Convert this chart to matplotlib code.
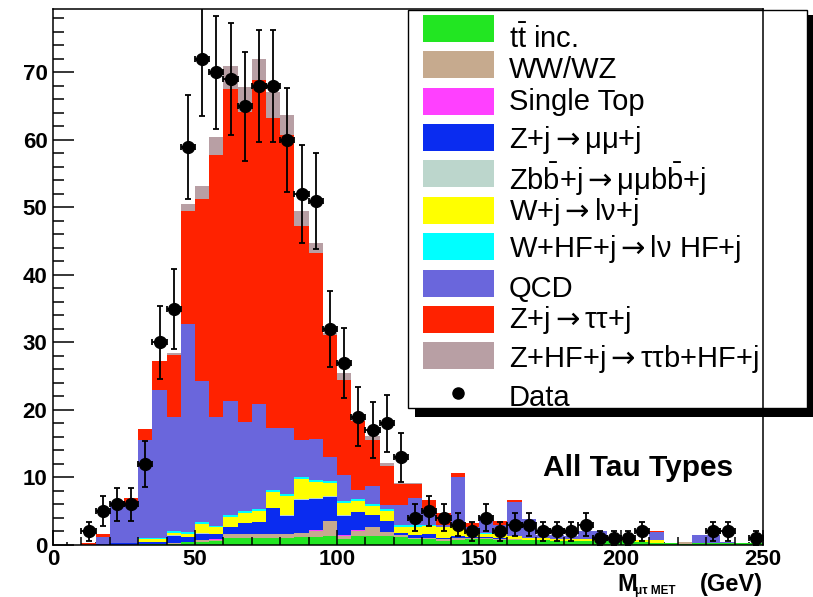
import numpy as np
import matplotlib
matplotlib.use("Agg")
import matplotlib.pyplot as plt
from matplotlib.patches import Rectangle
from matplotlib.lines import Line2D
from matplotlib.ticker import MultipleLocator

plt.rcParams['font.family'] = ['Liberation Sans', 'DejaVu Sans']
plt.rcParams['mathtext.fontset'] = 'custom'
plt.rcParams['mathtext.rm'] = 'Liberation Sans'
plt.rcParams['mathtext.bf'] = 'Liberation Sans:bold'
plt.rcParams['mathtext.it'] = 'Liberation Sans:italic'
plt.rcParams['mathtext.sf'] = 'DejaVu Sans'   # only used for the arrows

# 5 GeV bins from 0 to 250
bin_edges = np.arange(0, 255, 5)

# observed events per bin
data_counts = [0, 0, 2, 5, 6, 6, 12, 30, 35, 59,
               72, 70, 69, 65, 68, 68, 60, 52, 51, 32,
               27, 19, 17, 18, 13, 4, 5, 4, 3, 2,
               4, 2, 3, 3, 2, 2, 2, 3, 1, 1,
               1, 2, 0, 0, 0, 0, 2, 2, 0, 1]

# stacked backgrounds, bottom to top
ttbar = [0, 0, 0, 0, 0, 0, 0.1, 0.1, 0.2, 0.4,
         0.5, 0.6, 1.1, 1.1, 1.0, 1.0, 1.0, 1.2, 1.2, 1.3,
         0.9, 1.4, 1.4, 1.4, 1.2, 0.9, 0.9, 0.6, 0.8, 0.9,
         0.9, 0.8, 0.8, 0.7, 0.7, 0.6, 0.6, 0.6, 0.6, 0.6,
         0.6, 0.4, 0.3, 0.3, 0.2, 0.3, 0.3, 0.3, 0.3, 0.3]
ww_wz = [0, 0, 0, 0, 0, 0, 0.05, 0.1, 0.1, 0.1,
         0.2, 0.2, 0.5, 0.5, 0.6, 0.6, 0.6, 0.6, 0.9, 2.2,
         0.5, 0.7, 1.2, 0.5, 0.3, 0.2, 0.2, 0.3, 0.2, 0.1,
         0.1, 0.1, 0.1, 0.05, 0, 0, 0, 0, 0, 0,
         0, 0, 0, 0, 0.2, 0, 0, 0, 0, 0]
single_top = [0, 0, 0, 0, 0, 0, 0, 0, 0, 0,
              0, 0.05, 0.05, 0.05, 0.1, 0.05, 0.05, 0.05, 0.05, 0.05,
              0.05, 0.05, 0.05, 0.05, 0, 0, 0, 0, 0, 0,
              0, 0, 0, 0, 0, 0, 0, 0, 0, 0,
              0, 0, 0, 0, 0, 0, 0, 0, 0, 0]
z_mumu = [0, 0, 0, 0.1, 0.3, 0.3, 0.3, 0.3, 1.1, 0.7,
          1.0, 0.8, 1.0, 1.6, 1.7, 3.8, 2.7, 4.8, 4.7, 3.6,
          2.9, 2.7, 1.8, 1.6, 0.3, 0.4, 0.5, 0.2, 0.3, 0.2,
          0.2, 0.2, 0, 0, 0, 0, 0, 0, 0, 0,
          0, 0, 0, 0, 0, 0, 0, 0, 0, 0]
zbb_mumu = [0, 0, 0, 0, 0, 0, 0, 0, 0.05, 0,
            0.05, 0.05, 0.05, 0.05, 0.05, 0.1, 0.05, 0.1, 0.05, 0.05,
            0.05, 0.05, 0.05, 0.05, 0, 0, 0, 0, 0, 0,
            0, 0, 0, 0, 0, 0, 0, 0, 0, 0,
            0, 0, 0, 0, 0, 0, 0, 0, 0, 0]
w_lnu = [0, 0, 0, 0, 0, 0, 0.4, 0.45, 0.4, 0.5,
         1.4, 0.9, 1.5, 1.5, 1.6, 2.3, 2.8, 3.0, 2.5, 2.0,
         1.8, 1.6, 1.3, 1.5, 0.9, 1.2, 1.2, 1.5, 1.5, 0.8,
         0.5, 0.6, 0.4, 0.3, 0.3, 0.3, 0.3, 0.3, 0.1, 0,
         0.1, 0.3, 0.4, 0, 0, 0, 0, 0, 0, 0]
w_hf = [0, 0, 0, 0, 0, 0, 0.15, 0.15, 0.2, 0.2,
        0.2, 0.2, 0.3, 0.2, 0.3, 0.3, 0.3, 0.3, 0.3, 0.3,
        0.3, 0.3, 0.2, 0.3, 0.2, 0.2, 0.2, 0.1, 0.2, 0.1,
        0.05, 0.05, 0.1, 0.05, 0.1, 0.05, 0.05, 0.05, 0, 0,
        0, 0, 0, 0, 0, 0, 0, 0, 0, 0]
qcd = [0, 0, 0, 1.1, 6.0, 5.9, 14.5, 21.9, 16.95, 30.9,
       20.9, 16.2, 16.9, 13.2, 15.6, 9.2, 9.9, 5.5, 6.0, 3.6,
       3.8, 1.4, 2.8, 0.5, 3.0, 4.0, 2.4, 0.3, 7.0, 0.6,
       2.6, 1.2, 5.0, 2.7, 0.4, 0.5, 0.4, 1.1, 1.3, 0.6,
       0.2, 0.1, 1.2, 0, 0, 1.2, 1.2, 0.2, 0, 0]
z_tautau = [0, 0, 0.3, 0.4, 0, 0.7, 1.7, 4.2, 9.2, 16.7,
            27.0, 38.8, 46.2, 46.0, 48.0, 45.9, 43.3, 31.7, 27.5, 18.0,
            14.2, 10.2, 6.8, 5.8, 3.2, 2.2, 1.2, 1.7, 0.6, 0.5,
            0, 0.6, 0.2, 0, 0, 0, 0, 0, 0, 0,
            0, 0, 0.1, 0, 0, 0, 0, 0, 0, 0]
zhf_tautau = [0, 0, 0, 0, 0, 0, 0, 0.1, 0.3, 1.0,
              1.9, 2.6, 3.4, 3.6, 3.1, 3.9, 3.0, 2.3, 1.6, 0.3,
              1.0, 0.2, 0.5, 0.4, 0.1, 0.1, 0, 0, 0, 0,
              0, 0, 0, 0, 0, 0, 0, 0, 0, 0,
              0, 0, 0, 0, 0, 0, 0, 0, 0, 0]

arr = r"$\mathsf{\rightarrow}$"
labels = [r"t$\mathrm{\bar{t}}$ inc.", "WW/WZ", "Single Top", "Z+j" + arr + "μμ+j",
          r"Z$\mathrm{b\bar{b}}$+j" + arr + r"μμ$\mathrm{b\bar{b}}$+j",
          "W+j" + arr + "lν+j", "W+HF+j" + arr + "lν HF+j", "QCD",
          "Z+j" + arr + "ττ+j", "Z+HF+j" + arr + "ττb+HF+j"]
colors = ['#22e622', '#c6aa8e', '#ff40ff', '#0a2cf0', '#bcd6cc',
          '#ffff00', '#00ffff', '#6a66dc', '#ff2200', '#b89fa4']
stack = [ttbar, ww_wz, single_top, z_mumu, zbb_mumu,
         w_lnu, w_hf, qcd, z_tautau, zhf_tautau]

W, H = 813, 597
fig = plt.figure(figsize=(W / 100, H / 100), dpi=100)
ax = fig.add_axes([53 / W, 1 - 545 / H, 710 / W, 536 / H])

# stacked histogram
bottom = np.zeros(len(bin_edges) - 1)
for vals, col in zip(stack, colors):
    top = bottom + np.array(vals)
    ax.stairs(top, bin_edges, baseline=bottom, fill=True, color=col, lw=0, zorder=1)
    bottom = top

# data points with poisson errors
counts = np.array(data_counts, dtype=float)
centers = bin_edges[:-1] + 2.5
m = counts > 0
ax.errorbar(centers[m], counts[m], yerr=np.sqrt(counts[m]), xerr=2.5,
            fmt='o', color='black', ms=8.5, elinewidth=1.3,
            capsize=2.2, capthick=1.3, zorder=4)

ax.set_xlim(0, 250)
ax.set_ylim(0, 79.4)

xt = np.arange(0, 251, 50)
yt = np.arange(0, 71, 10)
ax.set_xticks(xt)
ax.set_xticklabels([str(v) for v in xt], fontweight='bold', fontsize=16)
ax.set_yticks(yt)
ax.set_yticklabels([str(v) for v in yt], fontweight='bold', fontsize=16)
ax.xaxis.set_minor_locator(MultipleLocator(10))
ax.yaxis.set_minor_locator(MultipleLocator(2))
ax.tick_params(which='both', direction='in', top=False, right=False, width=1.1)
ax.tick_params(axis='y', which='major', length=15, pad=4)
ax.tick_params(axis='y', which='minor', length=7.7)
ax.tick_params(axis='x', which='major', length=11, pad=3)
ax.tick_params(axis='x', which='minor', length=5.5)

# extra little ticks every 5 GeV
sec = ax.secondary_xaxis('bottom')
sec.set_xticks(np.arange(5, 250, 10))
sec.tick_params(direction='in', length=2.5, width=1.1, labelbottom=False)
sec.spines['bottom'].set_visible(False)

for s in ax.spines.values():
    s.set_linewidth(1.1)
    s.set_zorder(2.5)

# legend box drawn by hand (frame line of the axes goes over it)
ft = fig.transFigure
ax.add_patch(Rectangle((415 / W, 1 - 417 / H), 399 / W, 402 / H, transform=ft,
                       facecolor='black', lw=0, clip_on=False, zorder=2.1))
ax.add_patch(Rectangle((408 / W, 1 - 408 / H), 399 / W, 398 / H, transform=ft,
                       facecolor='white', edgecolor='black', lw=1.0,
                       clip_on=False, zorder=2.2))
baselines = [48, 78, 110, 148, 190, 220, 257, 297, 328, 367, 406]
for k, (lab, col) in enumerate(zip(labels, colors)):
    yc = 28.3 + 36.4 * k
    ax.add_patch(Rectangle((423 / W, 1 - (yc + 13.5) / H), 71 / W, 27 / H,
                           transform=ft, facecolor=col, lw=0,
                           clip_on=False, zorder=2.3))
    ax.text(509 / W, 1 - baselines[k] / H, lab, transform=ft, fontsize=21,
            va='baseline', ha='left', zorder=2.4, clip_on=False)
ax.add_line(Line2D([458 / W], [1 - 393 / H], transform=ft, marker='o',
                   color='black', ms=8, ls='none', clip_on=False, zorder=2.4))
ax.text(509 / W, 1 - baselines[10] / H, "Data", transform=ft, fontsize=21,
        va='baseline', ha='left', zorder=2.4, clip_on=False)

ax.text(543 / W, 1 - 468 / H, "All Tau Types", transform=ft, fontsize=21.5,
        fontweight='bold', va='center', ha='left')

# x axis title
fig.text(617 / W, 1 - 591 / H, "M", fontsize=17, fontweight='bold', va='baseline')
fig.text(635 / W, 1 - 594 / H, "μτ MET", fontsize=8.5, fontweight='bold', va='baseline')
fig.text(763 / W, 1 - 591 / H, "(GeV)", fontsize=17, fontweight='bold',
         va='baseline', ha='right')

fig.savefig("out.png", dpi=100)
